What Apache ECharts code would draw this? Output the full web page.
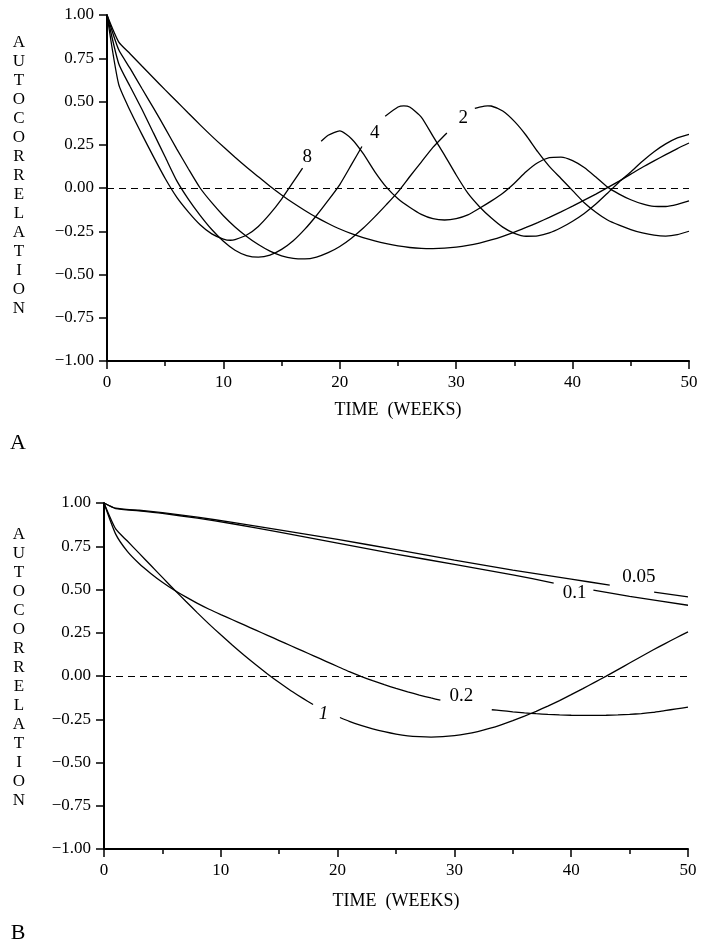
<!DOCTYPE html>
<html>
<head>
<meta charset="utf-8">
<script src="https://cdn.jsdelivr.net/npm/echarts@6/dist/echarts.min.js"></script>
<style>
html,body{margin:0;padding:0;background:#ffffff;}
#chart{width:701px;height:949px;}
</style>
</head>
<body>
<div id="chart"></div>
<script>
// ---------- DATA (weeks, autocorrelation) ----------
const xTicks = [0, 10, 20, 30, 40, 50];
const yTicks = [-1.00, -0.75, -0.50, -0.25, 0.00, 0.25, 0.50, 0.75, 1.00];
const xTitle = 'TIME  (WEEKS)';
const yTitle = 'AUTOCORRELATION';

// Panel A (gaps marked with '-' where the curve label sits)
const acfA1 = [[0,1],[1,0.845],[2,0.775],[3,0.705],[4,0.636],[5,0.567],[6,0.5],[7,0.432],[8,0.365],[9,0.3],[10,0.238],[11,0.178],[12,0.12],[13,0.065],[14,0.01],[15,-0.04],[16,-0.087],[17,-0.13],[18,-0.17],[19,-0.205],[20,-0.237],[21,-0.264],[22,-0.287],[23,-0.306],[24,-0.322],[25,-0.335],[26,-0.344],[27,-0.349],[28,-0.35],[29,-0.348],[30,-0.342],[31,-0.332],[32,-0.318],[33,-0.3],[34,-0.279],[35,-0.255],[36,-0.228],[37,-0.2],[38,-0.17],[39,-0.138],[40,-0.105],[41,-0.07],[42,-0.035],[43,0.002],[44,0.04],[45,0.08],[46,0.12],[47,0.157],[48,0.193],[49,0.228],[50,0.26]];
const acfA2 = [[0,1],[1,0.8],[2,0.69],[3,0.575],[4,0.462],[5,0.345],[6,0.225],[7,0.11],[8,0.0],[9,-0.085],[10,-0.16],[11,-0.225],[12,-0.28],[13,-0.327],[14,-0.365],[15,-0.392],[16,-0.407],[17,-0.41],[18,-0.399],[19,-0.374],[20,-0.338],[21,-0.29],[22,-0.233],[23,-0.167],[24,-0.096],[25,-0.022],[26,0.065],[27,0.15],[28,0.235],[29,0.305],[29.2,0.318],[30.4,'-'],[31.6,0.46],[32,0.468],[32.7,0.475],[33,0.474],[34,0.445],[35,0.385],[36,0.305],[37,0.21],[38,0.125],[39,0.055],[40,-0.015],[41,-0.085],[42,-0.14],[43,-0.185],[44,-0.215],[45,-0.24],[46,-0.26],[47,-0.273],[48,-0.278],[49,-0.27],[50,-0.25]];
const acfA4 = [[0,1],[1,0.72],[2,0.585],[3,0.455],[4,0.317],[5,0.179],[6,0.041],[7,-0.066],[8,-0.158],[9,-0.24],[10,-0.308],[11,-0.36],[12,-0.391],[13,-0.4],[14,-0.388],[15,-0.355],[16,-0.305],[17,-0.238],[18,-0.159],[19,-0.072],[20,0.02],[21,0.135],[21.9,0.24],[22.9,'-'],[23.9,0.415],[25,0.468],[25.5,0.475],[26,0.468],[27,0.41],[28,0.3],[29,0.19],[30,0.075],[31,-0.03],[32,-0.108],[33,-0.172],[34,-0.226],[35,-0.262],[36,-0.279],[37,-0.277],[38,-0.26],[39,-0.23],[40,-0.192],[41,-0.147],[42,-0.093],[43,-0.03],[44,0.035],[45,0.093],[46,0.155],[47,0.21],[48,0.255],[49,0.29],[50,0.31]];
const acfA8 = [[0,1],[1,0.6],[2,0.445],[3,0.31],[4,0.18],[5,0.055],[6,-0.054],[7,-0.139],[8,-0.212],[9,-0.265],[10,-0.295],[10.6,-0.302],[11,-0.298],[12,-0.272],[13,-0.222],[14,-0.15],[15,-0.064],[16,0.035],[16.8,0.115],[17.6,'-'],[18.4,0.27],[19,0.305],[20,0.33],[21,0.285],[22,0.2],[23,0.095],[24,0.005],[25,-0.062],[26,-0.111],[27,-0.152],[28,-0.177],[29,-0.185],[30,-0.177],[31,-0.155],[32,-0.117],[33,-0.076],[34,-0.03],[35,0.028],[36,0.094],[37,0.146],[38,0.175],[39,0.178],[40,0.158],[41,0.118],[42,0.063],[43,0.005],[44,-0.035],[45,-0.068],[46,-0.092],[47,-0.106],[48,-0.107],[49,-0.095],[50,-0.075]];
const labelsA = [['8', 17.2, 0.18], ['4', 23.0, 0.316], ['2', 30.6, 0.403]];

// Panel B
const acfB005 = [[0,1],[1,0.97],[3,0.958],[5,0.944],[8,0.918],[11,0.888],[15,0.845],[20,0.79],[25,0.73],[30,0.67],[35,0.612],[40,0.56],[43.3,0.525],[45.2,'-'],[47.1,0.485],[50,0.457]];
const acfB01 = [[0,1],[1,0.968],[3,0.955],[5,0.94],[8,0.912],[11,0.88],[15,0.832],[20,0.768],[25,0.705],[30,0.645],[35,0.585],[38.5,0.537],[40.2,'-'],[41.9,0.496],[45,0.46],[50,0.409]];
const acfB02 = [[0,1],[1,0.82],[2,0.72],[3,0.65],[4,0.593],[5,0.542],[6,0.497],[7,0.457],[8,0.42],[9,0.386],[10,0.355],[11,0.325],[12,0.295],[13,0.265],[14,0.235],[15,0.205],[16,0.175],[17,0.145],[18,0.115],[19,0.085],[20,0.055],[21,0.025],[22,-0.002],[23,-0.027],[24,-0.05],[25,-0.072],[26,-0.092],[27,-0.11],[28,-0.127],[28.8,-0.14],[31,'-'],[33.2,-0.195],[34,-0.2],[35,-0.207],[36,-0.213],[37,-0.218],[38,-0.222],[39,-0.225],[40,-0.227],[41,-0.228],[42,-0.228],[43,-0.227],[44,-0.225],[45,-0.222],[46,-0.217],[47,-0.21],[48,-0.2],[49,-0.19],[50,-0.18]];
const acfB1 = [[0,1],[1,0.85],[2,0.78],[3,0.71],[4,0.64],[5,0.57],[6,0.5],[7,0.432],[8,0.365],[9,0.3],[10,0.238],[11,0.178],[12,0.12],[13,0.065],[14,0.012],[15,-0.038],[16,-0.085],[17,-0.128],[17.9,-0.165],[19,'-'],[20.2,-0.24],[21,-0.262],[22,-0.285],[23,-0.305],[24,-0.322],[25,-0.336],[26,-0.346],[27,-0.351],[28,-0.353],[29,-0.351],[30,-0.345],[31,-0.335],[32,-0.321],[33,-0.303],[34,-0.282],[35,-0.258],[36,-0.232],[37,-0.204],[38,-0.174],[39,-0.142],[40,-0.108],[41,-0.073],[42,-0.037],[43,-0.001],[44,0.037],[45,0.075],[46,0.113],[47,0.15],[48,0.186],[49,0.221],[50,0.255]];
const labelsB = [['0.05', 45.8, 0.573], ['0.1', 40.3, 0.48], ['0.2', 30.6, -0.118], ['1', 18.8, -0.218]];

// ---------- CHART ----------
const SERIF = '"Liberation Serif", "DejaVu Serif", serif';
const chart = echarts.init(document.getElementById('chart'), null, {renderer: 'canvas'});

function fmtY(v) {
  const s = Math.abs(v).toFixed(2);
  return v < 0 ? '\u2212' + s : s;
}

function xAxisFor(gi, gap) {
  return {
    type: 'value', gridIndex: gi, min: xTicks[0], max: xTicks[xTicks.length - 1],
    interval: xTicks[1] - xTicks[0],
    name: xTitle, nameLocation: 'middle', nameGap: gap,
    nameTextStyle: {fontFamily: SERIF, fontSize: 18, color: '#000'},
    axisLine: {show: true, onZero: false, lineStyle: {color: '#000', width: 2}},
    axisTick: {show: true, inside: false, length: 8, lineStyle: {color: '#000', width: 1.5}},
    minorTick: {show: true, splitNumber: 2, length: 5, lineStyle: {color: '#000', width: 1.5}},
    axisLabel: {fontFamily: SERIF, fontSize: 17, color: '#000', margin: 13},
    splitLine: {show: false}
  };
}
function yAxisFor(gi) {
  return {
    type: 'value', gridIndex: gi, min: yTicks[0], max: yTicks[yTicks.length - 1],
    interval: yTicks[1] - yTicks[0],
    axisLine: {show: true, onZero: false, lineStyle: {color: '#000', width: 2}},
    axisTick: {show: true, inside: false, length: 8, lineStyle: {color: '#000', width: 1.5}},
    axisLabel: {fontFamily: SERIF, fontSize: 17, color: '#000', margin: 13, formatter: fmtY},
    splitLine: {show: false}
  };
}

function curve(data, gi, withZero) {
  const s = {
    type: 'line', xAxisIndex: gi, yAxisIndex: gi, data: data,
    showSymbol: false, symbol: 'none', smooth: 0.2, connectNulls: false,
    lineStyle: {color: '#000', width: 1.3}, silent: true, z: 3
  };
  if (withZero) {
    s.markLine = {
      silent: true, symbol: 'none', label: {show: false},
      lineStyle: {color: '#000', width: 1, type: [7, 5]},
      data: [{yAxis: 0}]
    };
  }
  return s;
}
function labels(list, gi) {
  return {
    type: 'scatter', xAxisIndex: gi, yAxisIndex: gi, silent: true, z: 5,
    symbolSize: 1, itemStyle: {color: 'rgba(0,0,0,0)', opacity: 1},
    data: list.map(l => ({name: l[0], value: [l[1], l[2]]})),
    label: {
      show: true, position: 'inside', formatter: '{b}', color: '#000', opacity: 1,
      textBorderWidth: 0, fontFamily: SERIF, fontSize: 19, fontStyle: 'normal'
    }
  };
}

const labB = labels(labelsB, 1);
labB.data = labB.data.map(d => d.name === '1' ? Object.assign(d, {label: {fontStyle: 'italic'}}) : d);

const option = {
  animation: false,
  backgroundColor: '#ffffff',
  grid: [
    {left: 107, top: 15, width: 582, height: 346},
    {left: 104, top: 503, width: 584, height: 346}
  ],
  xAxis: [xAxisFor(0, 40), xAxisFor(1, 43)],
  yAxis: [yAxisFor(0), yAxisFor(1)],
  series: [
    curve(acfA1, 0, true), curve(acfA2, 0), curve(acfA4, 0), curve(acfA8, 0), labels(labelsA, 0),
    curve(acfB005, 1, true), curve(acfB01, 1), curve(acfB02, 1), curve(acfB1, 1), labB
  ],
  graphic: [
    {type: 'text', x: 19, y: 33, silent: true,
      style: {text: yTitle.split('').join('\n'), font: '17px ' + SERIF, fill: '#000', align: 'center', verticalAlign: 'top', lineHeight: 19}},
    {type: 'text', x: 19, y: 525.5, silent: true,
      style: {text: yTitle.split('').join('\n'), font: '17px ' + SERIF, fill: '#000', align: 'center', verticalAlign: 'top', lineHeight: 19}},
    {type: 'text', x: 18, y: 443, silent: true,
      style: {text: 'A', font: '22px ' + SERIF, fill: '#000', align: 'center', verticalAlign: 'middle'}},
    {type: 'text', x: 18, y: 933, silent: true,
      style: {text: 'B', font: '22px ' + SERIF, fill: '#000', align: 'center', verticalAlign: 'middle'}}
  ]
};
chart.setOption(option);
</script>
</body>
</html>
